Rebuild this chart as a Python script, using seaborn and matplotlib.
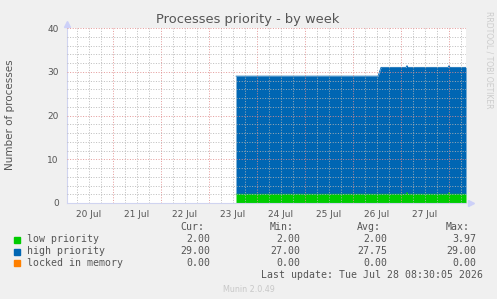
import matplotlib
matplotlib.use("Agg")
import matplotlib.pyplot as plt
import matplotlib.dates as mdates
import seaborn as sns
import pandas as pd
import numpy as np

# ---- data ----
times = ["2026-07-23 13:30", "2026-07-26 12:30", "2026-07-26 14:00",
         "2026-07-27 02:30", "2026-07-27 03:00", "2026-07-27 03:30",
         "2026-07-27 23:30", "2026-07-28 00:00", "2026-07-28 00:30",
         "2026-07-28 08:30"]
low_priority = [2, 2, 2, 2, 2.4, 2, 2, 2.4, 2, 2]
high_priority = [27, 27, 29, 29, 29, 29, 29, 29, 29, 29]
locked_in_memory = [0, 0, 0, 0, 0, 0, 0, 0, 0, 0]

series_names = ["low priority", "high priority", "locked in memory"]
series_colors = ["#00cc00", "#0066b3", "#ff8000"]
stats_cur = ["2.00", "29.00", "0.00"]
stats_min = ["2.00", "27.00", "0.00"]
stats_avg = ["2.00", "27.75", "0.00"]
stats_max = ["3.97", "29.00", "0.00"]
title = "Processes priority - by week"
ylabel = "Number of processes"
x_start = "2026-07-20 01:00"
x_end = "2026-07-28 08:30"
y_ticks = [0, 10, 20, 30, 40]

df = pd.DataFrame({"time": pd.to_datetime(times),
                   "low": low_priority, "high": high_priority,
                   "locked": locked_in_memory})
df["low_top"] = df["low"]
df["high_top"] = df["low"] + df["high"]
df["locked_top"] = df["high_top"] + df["locked"]

sns.set_style("white")
plt.rcParams["font.family"] = ["DejaVu Sans"]
txt = "#555555"

W, H = 497, 299
fig = plt.figure(figsize=(W / 100, H / 100), dpi=100, facecolor="#f0f0f0")
ax = fig.add_axes([67 / W, 1 - 203 / H, 399 / W, 175 / H])
ax.set_facecolor("white")

ax.fill_between(df["time"], 0, df["low_top"], color=series_colors[0], lw=0, zorder=1)
ax.fill_between(df["time"], df["low_top"], df["high_top"], color=series_colors[1], lw=0, zorder=1)
sns.lineplot(data=df, x="time", y="low_top", color=series_colors[0], lw=0.6, ax=ax, zorder=2)
sns.lineplot(data=df, x="time", y="high_top", color=series_colors[1], lw=0.6, ax=ax, zorder=2)

x0, x1 = pd.Timestamp(x_start), pd.Timestamp(x_end)
ax.set_xlim(x0, x1)
ax.set_ylim(0, 40)

# grid
ax.yaxis.set_major_locator(matplotlib.ticker.FixedLocator(y_ticks))
ax.yaxis.set_minor_locator(matplotlib.ticker.MultipleLocator(2))
ax.xaxis.set_minor_locator(mdates.HourLocator(byhour=[0, 6, 12, 18]))
ax.xaxis.set_major_locator(mdates.DayLocator())
ax.xaxis.set_major_formatter(matplotlib.ticker.NullFormatter())
ax.grid(which="minor", color="#b4b4b4", ls=(0, (1, 1.6)), lw=0.72, alpha=0.85, zorder=3)
ax.grid(which="major", color="#e08c8c", ls=(0, (1, 1.6)), lw=0.72, alpha=0.85, zorder=3)
ax.set_axisbelow(False)

ax.tick_params(axis="x", which="major", length=3, color="#e09090", labelsize=6.5)
ax.tick_params(axis="x", which="minor", length=0)
ax.tick_params(axis="y", which="major", length=3, color="#e09090", labelsize=6.5,
               labelcolor=txt, pad=3, direction="out")
ax.tick_params(axis="y", which="minor", length=0)

# day labels at noon
for d in pd.date_range(x0.normalize(), x1.normalize(), freq="D"):
    noon = d + pd.Timedelta(hours=12)
    if x0 <= noon <= x1:
        ax.text(noon, -1.6, d.strftime("%-d %b"), ha="center", va="top",
                fontsize=6.5, color=txt)

ax.set_xlabel("")
ax.set_ylabel("")
for s in ["top", "right"]:
    ax.spines[s].set_visible(False)
ax.spines["left"].set_color("#d0d4f0")
ax.spines["bottom"].set_color("#d0d4f0")
ax.spines["left"].set_linewidth(0.8)
ax.spines["bottom"].set_linewidth(0.8)
ax.plot([0], [1.025], marker="^", ms=4, color="#ccd0f8", transform=ax.transAxes, clip_on=False)
ax.plot([1.012], [0], marker=">", ms=4, color="#ccd0f8", transform=ax.transAxes, clip_on=False)

fig.text(248 / W, 1 - 19 / H, title, ha="center", va="center", fontsize=9.4, color=txt)
fig.text(10 / W, 1 - 115 / H, ylabel, ha="center", va="center", rotation=90,
         fontsize=7.5, color=txt)
fig.text(489 / W, 1 - 60 / H, "RRDTOOL / TOBI OETIKER", ha="center", va="center",
         rotation=270, fontsize=5.5, color="#cccccc")

mono = "DejaVu Sans Mono"
fs = 7.1
hy = 1 - 227.5 / H
for label, xr in zip(["Cur:", "Min:", "Avg:", "Max:"], [204, 293.3, 381, 470]):
    fig.text(xr / W, hy, label, ha="right", va="center", family=mono, fontsize=fs, color=txt)
rows_y = [239.5, 251.5, 263.3]
for i, name in enumerate(series_names):
    y = 1 - rows_y[i] / H
    fig.patches.append(matplotlib.patches.Rectangle((14 / W, y - 3 / H), 6 / W, 6 / H,
                       transform=fig.transFigure, color=series_colors[i]))
    fig.text(26.7 / W, y, name, ha="left", va="center", family=mono, fontsize=fs, color=txt)
    for vals, xr in zip([stats_cur, stats_min, stats_avg, stats_max], [210.7, 300, 387.7, 476.7]):
        fig.text(xr / W, y, vals[i], ha="right", va="center", family=mono, fontsize=fs, color=txt)
fig.text(482.7 / W, 1 - 275 / H, "Last update: Tue Jul 28 08:30:05 2026", ha="right",
         va="center", family=mono, fontsize=fs, color=txt)
fig.text(248.8 / W, 1 - 289.3 / H, "Munin 2.0.49", ha="center", va="center",
         fontsize=5.8, color="#c8c8c8")

fig.savefig("out.png", dpi=100, facecolor=fig.get_facecolor())
